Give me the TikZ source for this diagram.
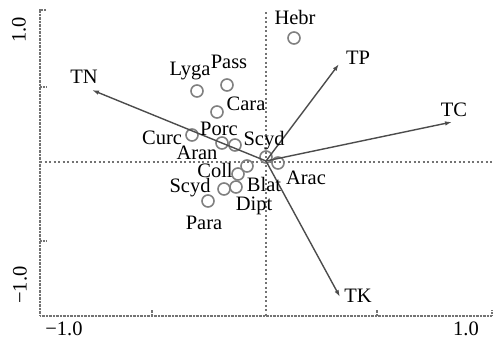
\documentclass[tikz,border=0pt]{standalone}
\usepackage{fontspec}
\setmainfont{Liberation Serif}
\usetikzlibrary{arrows.meta}

\tikzset{
  site/.style={circle, draw=gray, line width=1.6pt, minimum size=12pt, inner sep=0pt},
  vec/.style={draw=black!70, line width=1.4pt, -{Latex[length=7pt,width=4.5pt]}},
  lab/.style={font=\fontsize{20.5}{21}\selectfont, inner sep=0pt},
  frame/.style={black!55, line width=2pt, dash pattern=on 1pt off 0.4pt},
  guide/.style={black!55, line width=1.2pt, dash pattern=on 2pt off 2.5pt}
}

\begin{document}
\begin{tikzpicture}[x=1pt, y=-1pt]
  \useasboundingbox (0,0) rectangle (495,341);

  % axes and guides
  \draw[guide] (266,12) -- (266,316);
  \draw[guide] (40,162) -- (492,162);
  \draw[frame] (46,10) -- (40,10) -- (40,316) -- (492,316) -- (492,310);
  \draw[frame]
    (40,87) -- (46,87)
    (40,241) -- (46,241)
    (152,316) -- (152,310)
    (377,316) -- (377,310);

  \node[lab, rotate=90] (y1) at (19,30) {1.0};
  \node[lab, rotate=90] (y0) at (20,285) {−1.0};
  \node[lab] (x0) at (64,329) {−1.0};
  \node[lab] (x1) at (466,329) {1.0};

  % sites
  \node[site] (hebr) at (294,38) {};
  \node[site] (lyga) at (197,91) {};
  \node[site] (pass) at (227,85) {};
  \node[site] (cara) at (217,112) {};
  \node[site] (curc) at (192,135) {};
  \node[site] (porc1) at (222,143) {};
  \node[site] (porc2) at (235,145) {};
  \node[site] (scyd1) at (266,157) {};
  \node[site] (arac) at (278,163) {};
  \node[site] (coll1) at (247,166) {};
  \node[site] (coll2) at (238,174) {};
  \node[site] (scyd2) at (224,189) {};
  \node[site] (blat) at (236,187) {};
  \node[site] (para) at (208,201) {};

  % environmental vectors
  \coordinate (o) at (266,161);
  \coordinate (tn) at (92,90);
  \coordinate (tp) at (339,64);
  \coordinate (tc) at (452,122);
  \coordinate (tk) at (340,297);
  \draw[vec] (o) -- (tn);
  \draw[vec] (o) -- (tp);
  \draw[vec] (o) -- (tc);
  \draw[vec] (o) -- (tk);

  % labels
  \node[lab] (lhebr) at (295,17) {Hebr};
  \node[lab] (llyga) at (190,71) {Lyga};
  \node[lab] (lpass) at (229,62) {Pass};
  \node[lab] (lcara) at (246,104) {Cara};
  \node[lab] (lcurc) at (162,138) {Curc};
  \node[lab] (lporc) at (219,129) {Porc};
  \node[lab] (lscyd1) at (264,141) {Scyd};
  \node[lab] (laran) at (197,153) {Aran};
  \node[lab] (lcoll) at (215,170) {Coll};
  \node[lab] (lscyd2) at (190,188) {Scyd};
  \node[lab] (lblat) at (264,184) {Blat};
  \node[lab] (ldipt) at (254,206) {Dipt};
  \node[lab] (larac) at (306,178) {Arac};
  \node[lab] (lpara) at (204,223) {Para};
  \node[lab] (ltn) at (84,77) {TN};
  \node[lab] (ltp) at (358,58) {TP};
  \node[lab] (ltc) at (454,110) {TC};
  \node[lab] (ltk) at (358,296) {TK};
\end{tikzpicture}
\end{document}
